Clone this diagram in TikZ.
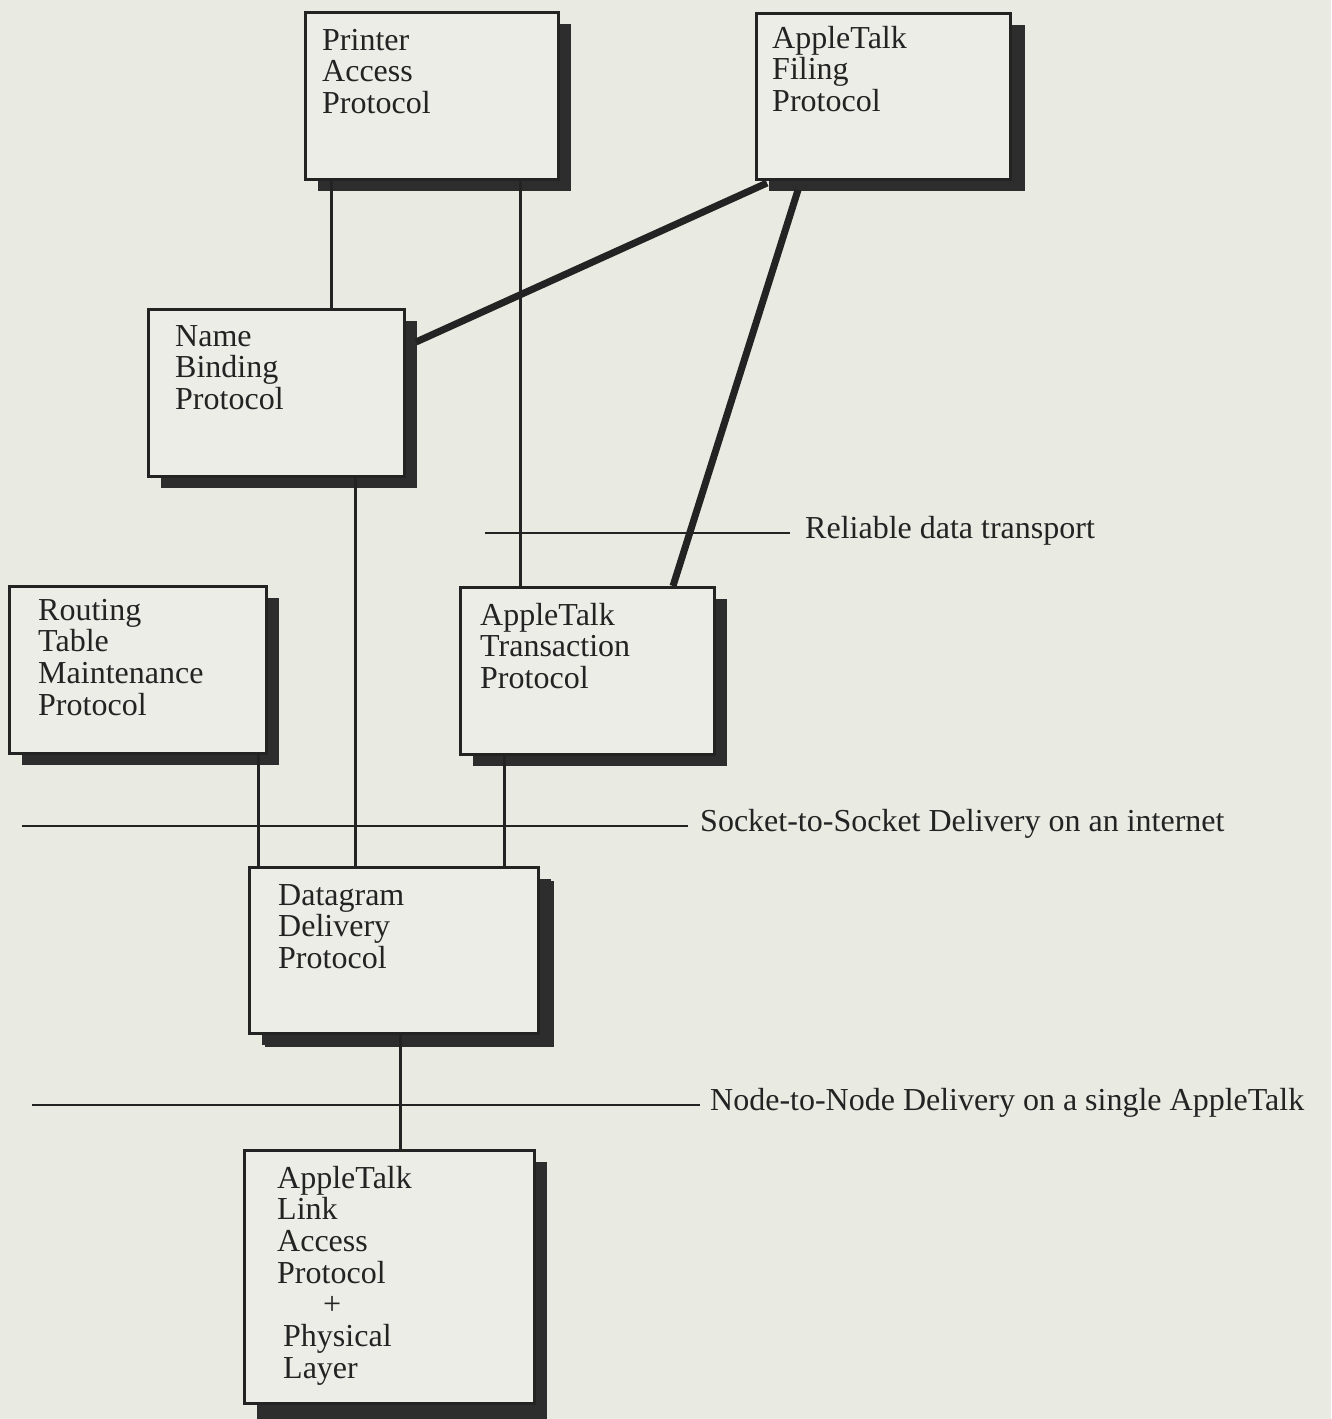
\documentclass[tikz,border=0pt]{standalone}
\usepackage{fontspec}
\setmainfont{Liberation Serif}
\usetikzlibrary{shadows}
\definecolor{paper}{RGB}{233,234,226}
\definecolor{boxfill}{RGB}{236,237,230}
\definecolor{ink}{RGB}{35,35,35}
\definecolor{shade}{RGB}{45,45,45}
\begin{document}
\begin{tikzpicture}[x=1pt,y=-1pt,
  proto/.style={draw=ink,line width=3pt,fill=boxfill,inner sep=0pt,anchor=north west,
    drop shadow={shadow xshift=12pt,shadow yshift=-11pt,opacity=1,fill=shade}},
  ptext/.style={anchor=base west,inner sep=0pt,font=\fontsize{32}{31.7}\selectfont,text=ink},
  wire/.style={draw=ink,line width=3pt},
  thickwire/.style={draw=ink,line width=7pt},
  rulewire/.style={draw=ink,line width=2.5pt},
]
\useasboundingbox (0,0) rectangle (1331,1419);
\fill[paper] (0,0) rectangle (1331,1419);

% protocol boxes
\node[proto,minimum width=253pt,minimum height=167pt] (pap) at (304,11) {};
\node[proto,minimum width=254pt,minimum height=166pt,drop shadow={shadow xshift=14pt,shadow yshift=-11pt,opacity=1,fill=shade}] (afp) at (755,12) {};
\node[proto,minimum width=256pt,minimum height=167pt] (nbp) at (147,308) {};
\node[proto,minimum width=257pt,minimum height=167pt] (rtmp) at (8,585) {};
\node[proto,minimum width=254pt,minimum height=167pt] (atp) at (459,586) {};
\node[proto,minimum width=289pt,minimum height=166pt,drop shadow={shadow xshift=15pt,shadow yshift=-13pt,opacity=1,fill=shade}] (ddp) at (248,866) {};
\node[proto,minimum width=290pt,minimum height=253pt,drop shadow={shadow xshift=12pt,shadow yshift=-18pt,opacity=1,fill=shade}] (alap) at (243,1149) {};

% box texts
\node[ptext] (tpap) at (322,50) {\begin{tabular}[t]{@{}l@{}}Printer\\Access\\Protocol\end{tabular}};
\node[ptext] (tafp) at (772,48) {\begin{tabular}[t]{@{}l@{}}AppleTalk\\Filing\\Protocol\end{tabular}};
\node[ptext] (tnbp) at (175,346) {\begin{tabular}[t]{@{}l@{}}Name\\Binding\\Protocol\end{tabular}};
\node[ptext] (trtmp) at (38,620) {\begin{tabular}[t]{@{}l@{}}Routing\\Table\\Maintenance\\Protocol\end{tabular}};
\node[ptext] (tatp) at (480,625) {\begin{tabular}[t]{@{}l@{}}AppleTalk\\Transaction\\Protocol\end{tabular}};
\node[ptext] (tddp) at (278,905) {\begin{tabular}[t]{@{}l@{}}Datagram\\Delivery\\Protocol\end{tabular}};
\node[ptext] (talap) at (277,1188) {\begin{tabular}[t]{@{}l@{}}AppleTalk\\Link\\Access\\Protocol\\\hspace*{46pt}+\\\hspace*{6pt}Physical\\\hspace*{6pt}Layer\end{tabular}};

% x positions of vertical connectors
\coordinate (c331) at (331,0);
\coordinate (c520) at (520,0);
\coordinate (c355) at (355,0);
\coordinate (c258) at (258,0);
\coordinate (c504) at (504,0);
\coordinate (c400) at (400,0);

\draw[wire] (pap.south -| c331) -- (nbp.north -| c331);
\draw[wire] (pap.south -| c520) -- (atp.north -| c520);
\draw[wire] (nbp.south -| c355) -- (ddp.north -| c355);
\draw[wire] (rtmp.south -| c258) -- (ddp.north -| c258);
\draw[wire] (atp.south -| c504) -- (ddp.north -| c504);
\draw[wire] (ddp.south -| c400) -- (alap.north -| c400);

\draw[thickwire] ([shift={(12,2)}]afp.south west) -- ([shift={(10,34)}]nbp.north east);
\draw[thickwire] ([shift={(43,9)}]afp.south west) -- ([shift={(214,0)}]atp.north west);

% layer boundaries with labels
\node[ptext] (lrel) at (805,538) {Reliable data transport};
\coordinate (srel) at (485,533);
\draw[rulewire,shorten >=15pt] (srel) -- (srel -| lrel.west);

\node[ptext] (lsock) at (700,831) {Socket-to-Socket Delivery on an internet};
\coordinate (ssock) at (22,826);
\draw[rulewire,shorten >=12pt] (ssock) -- (ssock -| lsock.west);

\node[ptext] (lnode) at (710,1110) {Node-to-Node Delivery on a single AppleTalk};
\coordinate (snode) at (32,1105);
\draw[rulewire,shorten >=10pt] (snode) -- (snode -| lnode.west);
\end{tikzpicture}
\end{document}
